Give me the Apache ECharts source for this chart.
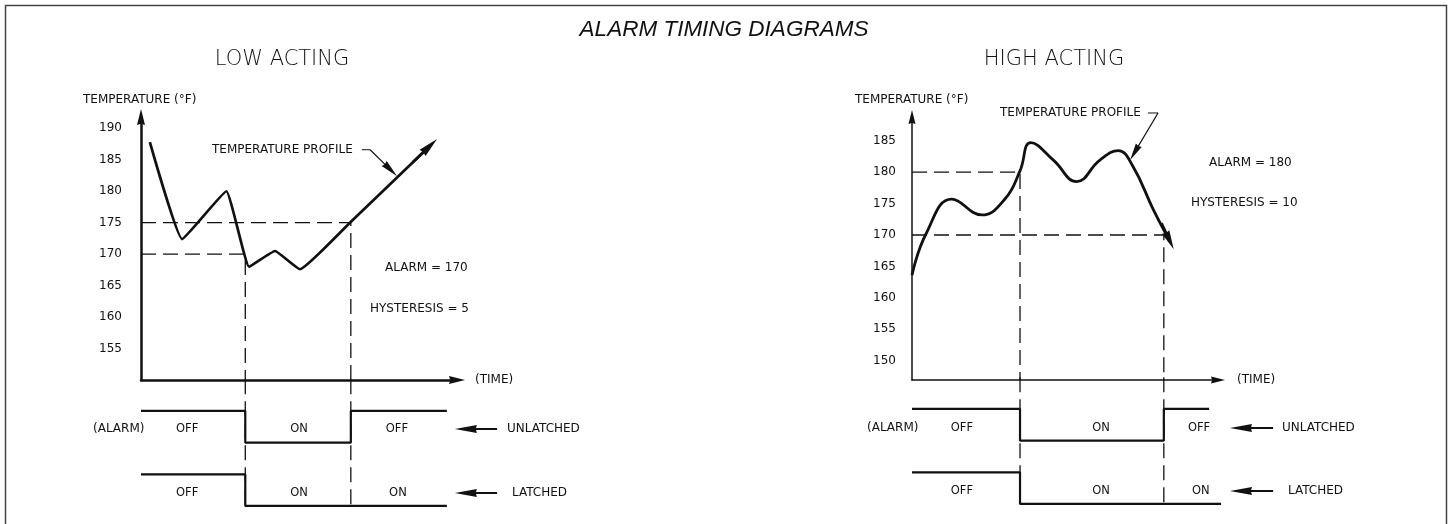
<!DOCTYPE html>
<html><head><meta charset="utf-8">
<script src="https://cdn.jsdelivr.net/npm/echarts@6/dist/echarts.min.js"></script>
<style>html,body{margin:0;padding:0;background:#fff}#c{width:1448px;height:524px}</style>
</head><body><div id="c"></div>
<script>
// ---------- LOW ACTING (alarm 170, hysteresis 5) ----------
const lowYTicks = [155, 160, 165, 170, 175, 180, 185, 190];
const lowProfile = [[2.8,187.8],[13.0,172.4],[27.0,180.0],[34.2,168.0],[42.4,170.5],[50.3,167.6],[66.1,175.0],[91.4,187.2]];
const lowProfileArrow = [[86.0,184.6],[91.4,187.2]];
const lowAlarm = 170, lowReset = 175;
const lowOnTime = 33.0, lowOffTime = 66.4;
const lowUnlatched = [[0,4],[33.0,4],[33.0,3],[66.4,3],[66.4,4],[96.8,4]];
const lowLatched = [[0,2],[33.0,2],[33.0,1],[96.8,1]];
const lowStateLabels = [['OFF',14.6,3.43],['ON',50.0,3.43],['OFF',81.0,3.43],['OFF',14.6,1.41],['ON',50.0,1.41],['ON',81.3,1.41]];
const lowLeader = [[69.9,186.6],[72.5,186.6]];
const lowLeaderArrow = [[72.5,186.6],[79.0,183.4]];
const lowStateArrows = [[[112.7,3.43],[102.8,3.43]],[[112.7,1.41],[102.8,1.41]]];

// ---------- HIGH ACTING (alarm 180, hysteresis 10) ----------
const highYTicks = [150, 155, 160, 165, 170, 175, 180, 185];
const highProfile = [[0,163.6],[4.6,170.2],[13.0,175.7],[22.8,173.2],[30.5,175.8],[35.3,180.2],[38.8,184.7],[46.2,181.9],[53.8,178.5],[61.4,181.9],[67.4,183.4],[72.0,181.1],[78.9,174.0],[84.2,169.1]];
const highProfileArrow = [[81.5,171.9],[84.2,169.1]];
const highAlarm = 180, highReset = 170;
const highOnTime = 35.3, highOffTime = 82.3;
const highUnlatched = [[0,4],[35.3,4],[35.3,3],[82.3,3],[82.3,4],[97.1,4]];
const highLatched = [[0,2],[35.3,2],[35.3,1],[101.0,1]];
const highStateLabels = [['OFF',16.3,3.40],['ON',61.8,3.40],['OFF',93.8,3.40],['OFF',16.3,1.41],['ON',61.8,1.41],['ON',94.4,1.41]];
const highLeader = [[77.1,189.4],[80.4,189.4]];
const highLeaderArrow = [[80.4,189.4],[72.7,183.1]];
const highStateArrows = [[[118.0,3.40],[107.5,3.40]],[[118.0,1.41],[107.5,1.41]]];

const INK = '#111111';
const FONT = '"DejaVu Sans", sans-serif';
const AXIS_ARROW = 'path://M5,0 L10,20 L5,18.5 L0,20 Z';
// arrow heads for line ends, drawn in a square box so the head stays narrow
function headPath(halfW) {
  return 'path://M0,0 M20,20 M10,0 L' + (10 + halfW) + ',20 L10,19 L' + (10 - halfW) + ',20 Z';
}

const chart = echarts.init(document.getElementById('c'), null, {renderer: 'canvas'});

function mainX(gi, w, aw) {
  return {gridIndex: gi, type: 'value', min: 0, max: 100,
    axisLine: {show: true, onZero: false, symbol: ['none', AXIS_ARROW], symbolSize: [aw, 20], lineStyle: {color: INK, width: w}},
    axisTick: {show: false}, axisLabel: {show: false}, splitLine: {show: false}};
}
function mainY(gi, min, max, ticks, w, margin, aw, ah) {
  return {gridIndex: gi, type: 'value', min: min, max: max,
    axisLine: {show: true, onZero: false, symbol: ['none', AXIS_ARROW], symbolSize: [aw, ah], lineStyle: {color: INK, width: w}},
    axisTick: {show: false},
    axisLabel: {show: true, customValues: ticks, margin: margin, color: INK, fontSize: 12, fontFamily: FONT},
    splitLine: {show: false}};
}
function hidden(gi, min, max) {
  return {gridIndex: gi, type: 'value', min: min, max: max, show: false, splitLine: {show: false}};
}
function solid(xi, data, w, smooth) {
  return {type: 'line', xAxisIndex: xi, yAxisIndex: xi, data: data, smooth: smooth || false, symbol: 'none',
    lineStyle: {color: INK, width: w}, z: 5, silent: true};
}
function dashed(xi, data) {
  return {type: 'line', xAxisIndex: xi, yAxisIndex: xi, data: data, symbol: 'none',
    lineStyle: {color: INK, width: 1.3, type: [15, 7]}, z: 3, silent: true};
}
function arrows(xi, segs, w, size, halfW) {
  return {type: 'lines', coordinateSystem: 'cartesian2d', xAxisIndex: xi, yAxisIndex: xi, clip: false,
    symbol: ['none', headPath(halfW)], symbolSize: size,
    lineStyle: {color: INK, width: w, opacity: 1, curveness: 0}, itemStyle: {color: INK},
    data: segs.map(s => ({coords: s})), z: 6, silent: true};
}
function plain(xi, pts, w) {
  return {type: 'lines', coordinateSystem: 'cartesian2d', xAxisIndex: xi, yAxisIndex: xi, clip: false, polyline: true,
    lineStyle: {color: INK, width: w, opacity: 1}, data: [{coords: pts}], z: 6, silent: true};
}
function stateText(xi, labels) {
  return {type: 'scatter', xAxisIndex: xi, yAxisIndex: xi, symbolSize: 0, clip: false, silent: true,
    itemStyle: {opacity: 1},
    data: labels.map(l => ({name: l[0], value: [l[1], l[2]]})),
    label: {show: true, position: 'inside', formatter: p => p.name, color: INK, opacity: 1, fontSize: 11.5, fontFamily: FONT,
      textBorderWidth: 0}};
}

function txt(text, x, y, font, align) {
  return {type: 'text', silent: true, style: {text: text, x: x, y: y, font: font, fill: INK,
    align: align || 'left', verticalAlign: 'middle', textAlign: align || 'left', textVerticalAlign: 'middle'}};
}
const F12 = '12px ' + FONT;
const FHEAD = '300 21px ' + FONT;

const option = {
  animation: false,
  backgroundColor: '#ffffff',
  grid: [
    {left: 141, top: 117, width: 316, height: 263},
    {left: 141, top: 379.3, width: 395, height: 142.5},
    {left: 912, top: 117, width: 306, height: 263},
    {left: 912, top: 377.3, width: 382.5, height: 142.5}
  ],
  xAxis: [mainX(0, 2.5, 8), hidden(1, 0, 125), mainX(2, 1.5, 7), hidden(3, 0, 125)],
  yAxis: [
    mainY(0, 150, 191.8, lowYTicks, 2.5, 19, 8, 20),
    hidden(1, 0.5, 5),
    mainY(2, 146.95, 188.76, highYTicks, 1.5, 16, 7, 18),
    hidden(3, 0.5, 5)
  ],
  series: [
    // low acting
    dashed(0, [[0, lowReset], [lowOffTime, lowReset], [lowOffTime, 150]]),
    dashed(0, [[0, lowAlarm], [lowOnTime, lowAlarm], [lowOnTime, 150]]),
    dashed(1, [[lowOnTime, 5], [lowOnTime, 1]]),
    dashed(1, [[lowOffTime, 5], [lowOffTime, 1]]),
    solid(0, lowProfile, 2.7, 0.1),
    arrows(0, [lowProfileArrow], 2.7, 20, 4.3),
    plain(0, lowLeader, 1),
    arrows(0, [lowLeaderArrow], 1.2, 18, 4.0),
    solid(1, lowUnlatched, 2.2),
    solid(1, lowLatched, 2.2),
    stateText(1, lowStateLabels),
    arrows(1, lowStateArrows, 2, 22, 3.6),
    // high acting
    dashed(2, [[0, highAlarm], [highOnTime, highAlarm], [highOnTime, 146.95]]),
    dashed(2, [[0, highReset], [highOffTime, highReset], [highOffTime, 146.95]]),
    dashed(3, [[highOnTime, 5], [highOnTime, 1]]),
    dashed(3, [[highOffTime, 5], [highOffTime, 1]]),
    solid(2, highProfile, 2.8, 0.45),
    arrows(2, [highProfileArrow], 2.8, 19, 4.3),
    plain(2, highLeader, 1),
    arrows(2, [highLeaderArrow], 1.2, 17, 4.0),
    solid(3, highUnlatched, 2.2),
    solid(3, highLatched, 2.2),
    stateText(3, highStateLabels),
    arrows(3, highStateArrows, 2, 22, 3.6)
  ],
  graphic: [
    {type: 'rect', silent: true, shape: {x: 5.5, y: 5.5, width: 1441, height: 540}, style: {fill: 'none', stroke: '#444', lineWidth: 1.5}},
    txt('ALARM TIMING DIAGRAMS', 724, 30, 'italic 22.5px "Liberation Sans", sans-serif', 'center'),
    txt('LOW ACTING', 282, 59.5, FHEAD, 'center'),
    txt('HIGH ACTING', 1054, 59.5, FHEAD, 'center'),
    txt('TEMPERATURE (°F)', 83, 99.5, F12),
    txt('TEMPERATURE (°F)', 855, 100, F12),
    txt('TEMPERATURE PROFILE', 212, 150, F12),
    txt('TEMPERATURE PROFILE', 1000, 113, F12),
    txt('ALARM = 170', 385, 267.5, F12),
    txt('HYSTERESIS = 5', 370, 309, F12),
    txt('ALARM = 180', 1209, 162.5, F12),
    txt('HYSTERESIS = 10', 1191, 203, F12),
    txt('(TIME)', 475, 380, F12),
    txt('(TIME)', 1237, 380, F12),
    txt('(ALARM)', 93, 429, F12),
    txt('(ALARM)', 867, 428, F12),
    txt('UNLATCHED', 507, 429, F12),
    txt('LATCHED', 512, 493, F12),
    txt('UNLATCHED', 1282, 428, F12),
    txt('LATCHED', 1288, 491, F12)
  ]
};
chart.setOption(option);
</script></body></html>
